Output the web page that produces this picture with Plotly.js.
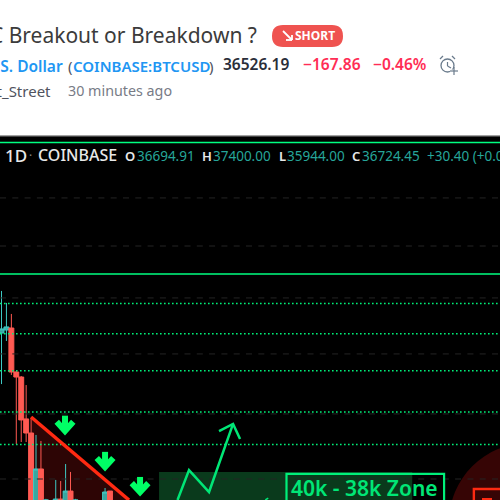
<!DOCTYPE html>
<html>
<head>
<meta charset="utf-8">
<script src="https://cdn.plot.ly/plotly-3.0.1.min.js"></script>
<style>html,body{margin:0;padding:0;background:#fff}#c{width:500px;height:500px}</style>
</head>
<body>
<div id="c"></div>
<script>
// Daily candles: bar index and prices (log price axis)
var barIndex = [0, 1, 2, 3, 4, 5, 6, 7, 8, 9, 11, 12, 13, 14, 15, 21, 22];
var openPrice = [48630, 48830, 48960, 46160, 45850, 43350, 42540, 38000, 40540, 38400, 38600, 38940, 38700, 39360, 38500, 38700, 39360];
var highPrice = [51450, 50630, 49890, 46220, 45910, 45360, 43400, 42430, 42090, 38950, 39950, 39890, 40810, 40380, 38950, 39520, 39310];
var lowPrice = [45420, 48120, 45980, 41920, 42030, 42030, 37500, 37500, 37500, 38000, 38400, 38300, 38500, 38400, 38200, 38500, 38500];
var closePrice = [48900, 49030, 46160, 45850, 43290, 42540, 38000, 40540, 38400, 38900, 38940, 38600, 39360, 38700, 38900, 39310, 38700];

// Horizontal levels (prices)
var solidLevels = [62760, 52630];
var dottedLevels = [50590, 48590, 46240, 43750, 41890];
var gridLevels = [58270, 54640, 50970, 47290, 43640, 40000];

// Hand drawings in bar / price space
var wedgeX = [6, 25.86, 25.86, 6];
var wedgeY = [43460, 38891, 37000, 37000];
var wedgeEdgeX = [6, 25.86];
var wedgeEdgeY = [43460, 38891];
var pathX = [35.7, 38.03, 42.09, 46.96, null, 44.12, 46.96, 48.38];
var pathY = [38891, 40480, 39310, 43060, null, 42650, 43060, 42200];
var tailX = [53.5, 54.1];
var tailY = [38891, 38990];
var arrowX = [12.88, 12.88, null, 11.2, 12.88, 14.56, null, 21, 21, null, 19.32, 21, 22.68, null, 28.1, 28.1, null, 26.42, 28.1, 29.78];
var arrowY = [43540, 42650, null, 43180, 42650, 43180, null, 41480, 40650, null, 41140, 40650, 41140, null, 40110, 39310, null, 39780, 39310, 39780];

// Texts
var ideaTitle = 'BTC Breakout or Breakdown ?';
var sideTag = 'SHORT';
var symbolName = 'Bitcoin / U.S. Dollar';
var symbolCode = 'COINBASE:BTCUSD';
var lastPrice = '36526.19';
var changeAbs = '\u2212167.86';
var changePct = '\u22120.46%';
var authorName = 'Crypt_Street';
var postedAgo = '30 minutes ago';
var intervalLabel = '1D';
var exchangeLabel = 'COINBASE';
var ohlcKeys = ['O', 'H', 'L', 'C'];
var ohlcValues = ['36694.91', '37400.00', '35944.00', '36724.45'];
var changeLabel = '+30.40 (+0.08%)';
var zoneLabel = '40k - 38k Zone';

var FONT = '"Noto Sans", "Open Sans", sans-serif';
var GREEN = '#00e676';
var X0 = -0.304, X1 = 101.1;

function levelTrace(levels, color, width, dash) {
  var xs = [], ys = [];
  levels.forEach(function (v) { xs.push(X0, X1, null); ys.push(v, v, null); });
  return {type: 'scatter', mode: 'lines', x: xs, y: ys, hoverinfo: 'skip',
    line: {color: color, width: width, dash: dash}};
}
function drawLine(x, y, color, width) {
  return {type: 'scatter', mode: 'lines', x: x, y: y, hoverinfo: 'skip',
    line: {color: color, width: width, shape: 'linear'}};
}
var traces = [
  levelTrace(gridLevels, '#242424', 1, '6px,6.3px'),
  levelTrace(dottedLevels, '#00f07a', 1.5, '1.6px,2.4px'),
  levelTrace(solidLevels, '#00ff80', 1.5, 'solid'),
  {type: 'candlestick', x: barIndex, open: openPrice, high: highPrice, low: lowPrice, close: closePrice,
    increasing: {line: {color: '#3ec9c4', width: 1}, fillcolor: '#3aa6a0'},
    decreasing: {line: {color: '#ff5a52', width: 1}, fillcolor: '#ff5a52'},
    whiskerwidth: 0, hoverinfo: 'skip'},
  drawLine(wedgeEdgeX, wedgeEdgeY, '#ff2a12', 3.5),
  drawLine(pathX, pathY, GREEN, 2.5),
  drawLine(tailX, tailY, GREEN, 1.5),
  drawLine(arrowX, arrowY, '#00ff66', 6)
];

function px(x) { return x / 500; }
function py(y) { return 1 - y / 500; }
function txt(text, x, y, size, color, opts) {
  opts = opts || {};
  return {text: text, xref: 'paper', yref: 'paper', x: px(x), y: py(y), showarrow: false,
    xanchor: opts.anchor || 'left', yanchor: 'middle', borderpad: 0, borderwidth: 0,
    font: {family: opts.family || FONT, size: size, color: color, weight: opts.weight || 400}};
}
function seg(x0, y0, x1, y1, color, w) {
  return {type: 'line', xref: 'paper', yref: 'paper', x0: px(x0), y0: py(y0), x1: px(x1), y1: py(y1),
    line: {color: color, width: w}, layer: 'above'};
}
function pillPath(x0, y0, x1, y1, r) {
  var L = px(x0), R = px(x1), T = py(y0), B = py(y1), rx = px(r), ry = r / 500;
  return 'M' + (L + rx) + ',' + T + ' L' + (R - rx) + ',' + T +
    ' Q' + R + ',' + T + ' ' + R + ',' + (T - ry) + ' L' + R + ',' + (B + ry) +
    ' Q' + R + ',' + B + ' ' + (R - rx) + ',' + B + ' L' + (L + rx) + ',' + B +
    ' Q' + L + ',' + B + ' ' + L + ',' + (B + ry) + ' L' + L + ',' + (T - ry) +
    ' Q' + L + ',' + T + ' ' + (L + rx) + ',' + T + ' Z';
}
var wedgePath = wedgeX.map(function (x, i) { return (i ? 'L' : 'M') + x + ',' + wedgeY[i]; }).join(' ') + ' Z';

var shapes = [
  {type: 'rect', xref: 'paper', yref: 'paper', x0: 0, x1: 1, y0: py(137), y1: py(135.5),
    fillcolor: '#444', line: {width: 0}, layer: 'below'},
  // Falling wedge behind the candles
  {type: 'path', xref: 'x', yref: 'y', path: wedgePath,
    fillcolor: '#2d0505', line: {width: 0}, layer: 'below'},
  // Zone rectangle and label box
  {type: 'rect', xref: 'x', yref: 'y', x0: 31.95, x1: 83.3, y0: 37000, y1: 40380,
    fillcolor: '#0a3a1c', line: {width: 0}, layer: 'below'},
  {type: 'rect', xref: 'x', yref: 'y', x0: 57.8, x1: 89.76, y0: 37000, y1: 40270,
    fillcolor: 'rgba(0,0,0,0)', line: {color: '#00f07a', width: 2.2}, layer: 'above'},
  // Lower right circle and box
  {type: 'circle', xref: 'x', yref: 'y', x0: 90.77, x1: 122.8, y0: 33970, y1: 41970,
    fillcolor: '#360505', line: {width: 0}, layer: 'below'},
  {type: 'rect', xref: 'x', yref: 'y', x0: 95.8, x1: 110, y0: 37000, y1: 39470,
    fillcolor: 'rgba(0,0,0,0)', line: {color: '#ff2a12', width: 2.4}, layer: 'above'},
  seg(482, 499, 492, 499, '#ff2a12', 2),
  // Short pill
  {type: 'path', xref: 'paper', yref: 'paper', path: pillPath(272, 25, 343, 47, 11),
    fillcolor: '#ef5350', line: {width: 0}, layer: 'above'},
  seg(283, 31, 292, 40, '#fff', 1.8),
  seg(292, 40, 292, 35, '#fff', 1.8),
  seg(292, 40, 286, 40, '#fff', 1.8),
  // Alarm icon
  {type: 'circle', xref: 'paper', yref: 'paper', x0: px(441), x1: px(454), y0: py(72), y1: py(59),
    fillcolor: 'rgba(0,0,0,0)', line: {color: '#6a7b8c', width: 1.3}, layer: 'above'},
  seg(447.5, 62, 447.5, 66, '#6a7b8c', 1.2),
  seg(447.5, 66, 451, 68, '#6a7b8c', 1.2),
  seg(440, 59, 443, 56, '#6a7b8c', 1.2),
  seg(452, 56, 455, 59, '#6a7b8c', 1.2),
  seg(450, 71, 459, 71, '#fff', 3),
  seg(454, 67, 454, 75, '#6a7b8c', 1.2),
  seg(450, 71, 458, 71, '#6a7b8c', 1.2)
];

var GREY = '#e8e8e8';
var TEAL = '#26a69a';
var annotations = [
  txt(ideaTitle, 257, 35, 21, '#3b3b3b', {anchor: 'right'}),
  txt(sideTag, 295, 36, 12, '#ffffff', {weight: 700}),
  txt(symbolName, 63, 66, 15.5, '#2196f3', {anchor: 'right', weight: 600}),
  txt('(', 68, 66, 15, '#50535e'),
  txt(symbolCode, 73, 66, 15, '#2196f3', {weight: 600}),
  txt(')', 209, 66, 15, '#50535e'),
  txt(lastPrice, 223, 64, 15.5, '#2a2e39', {weight: 600}),
  txt(changeAbs, 303, 64, 15.5, '#ff2d55', {weight: 600}),
  txt(changePct, 373, 64, 15.5, '#ff2d55', {weight: 600}),
  txt(authorName, 51, 91, 15, '#50535e', {anchor: 'right'}),
  txt(postedAgo, 68, 91, 14.3, '#787b86'),
  txt(intervalLabel, 5, 155, 17, GREY, {weight: 500}),
  txt('\u00b7', 29, 155, 12, '#888'),
  txt(exchangeLabel, 38, 155, 16, GREY, {weight: 500}),
  txt(ohlcKeys[0], 125, 156, 13, GREY, {weight: 600}),
  txt(ohlcValues[0], 137, 156, 13.5, TEAL),
  txt(ohlcKeys[1], 202, 156, 13, GREY, {weight: 600}),
  txt(ohlcValues[1], 213, 156, 13.5, TEAL),
  txt(ohlcKeys[2], 279, 156, 13, GREY, {weight: 600}),
  txt(ohlcValues[2], 287, 156, 13.5, TEAL),
  txt(ohlcKeys[3], 352, 156, 13, GREY, {weight: 600}),
  txt(ohlcValues[3], 362, 156, 13.5, TEAL),
  txt(changeLabel, 427, 156, 13.5, TEAL),
  txt(zoneLabel, 291, 488, 21, '#00e676', {weight: 600})
];

var layout = {
  width: 500, height: 500, margin: {l: 0, r: 0, t: 0, b: 0, pad: 0},
  paper_bgcolor: '#ffffff', plot_bgcolor: '#000000', showlegend: false,
  boxmode: 'overlay', boxgap: 0, boxgroupgap: 0,
  xaxis: {range: [X0, X1], type: 'linear', visible: false, showgrid: false, zeroline: false,
    rangeslider: {visible: false}, fixedrange: true},
  yaxis: {range: [4.58985, 4.80088], type: 'log', domain: [0, 0.726], visible: false,
    showgrid: false, zeroline: false, fixedrange: true},
  shapes: shapes, annotations: annotations, hovermode: false
};
Plotly.newPlot('c', traces, layout, {displayModeBar: false, staticPlot: true});
</script>
</body>
</html>
